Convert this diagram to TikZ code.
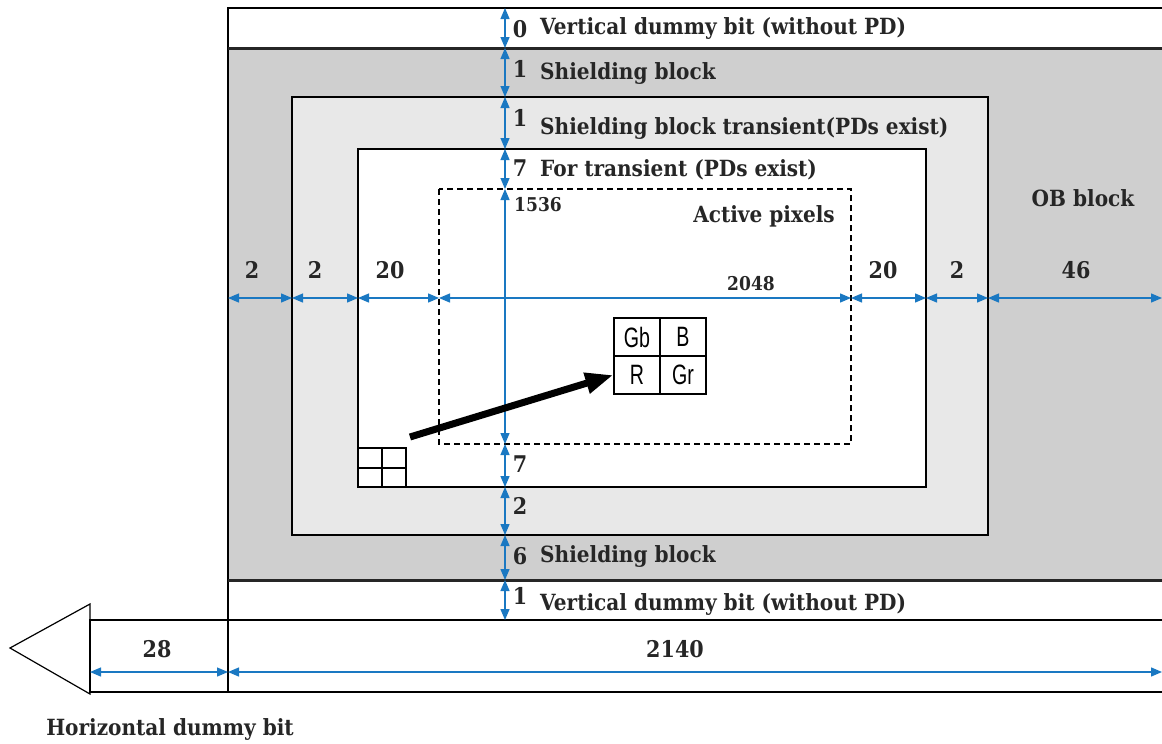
\documentclass[tikz,border=0pt]{standalone}
\usepackage{fontspec}
\setmainfont{DejaVu Serif}[FakeStretch=0.9]
\newfontfamily\cellfont{Liberation Sans}[FakeStretch=0.7]
\usetikzlibrary{arrows.meta}
\definecolor{dimblue}{HTML}{1A78C2}
\definecolor{obgray}{HTML}{CFCFCF}
\definecolor{lightgray}{HTML}{E8E8E8}
\begin{document}
\begin{tikzpicture}[x=1pt,y=-1pt,
  dim/.style={draw=dimblue, line width=1.3pt, {Triangle[length=11pt,width=9pt]}-{Triangle[length=11pt,width=9pt]}},
  frame/.style={draw=black, line width=1.3pt},
  lbl/.style={font=\bfseries\fontsize{22.3}{24}\selectfont, text=black!85, inner sep=0pt, anchor=west},
  num/.style={font=\bfseries\fontsize{23}{24}\selectfont, text=black!85, inner sep=0pt},
  small/.style={font=\bfseries\fontsize{19}{20}\selectfont, text=black!85, inner sep=0pt},
  cell/.style={draw=black, line width=1.3pt, minimum width=46pt, minimum height=38pt, inner sep=0pt, font=\cellfont\fontsize{28}{30}\selectfont}]
\useasboundingbox (0,0) rectangle (1162,744);
\clip (0,0) rectangle (1162,744);
% regions
\fill[obgray] (228,48) rectangle (1170,580);
\fill[lightgray] (292,97) rectangle (988,535);
\fill[white] (358,149) rectangle (926,487);
\draw[frame] (292,97) rectangle (988,535);
\draw[frame] (358,149) rectangle (926,487);
\draw[black, line width=1.3pt, dashed, dash pattern=on 6pt off 4pt] (439,189) rectangle (851,444);
% outer frame lines
\draw[frame] (1170,8) -- (228,8) -- (228,692);
\draw[black!85, line width=3pt] (1170,48) -- (228,48);
\draw[black!85, line width=3pt] (1170,580) -- (228,580);
\draw[frame] (1170,620) -- (90,620) -- (90,692) -- (1170,692);
% triangle
\draw[frame, line width=1.2pt] (90,604) -- (10,648) -- (90,694) -- cycle;
% vertical dimension coordinates
\foreach \n/\y in {v0/8,v1/48,v2/97,v3/149,v4/189,v5/444,v6/487,v7/535,v8/580,v9/620}
  \coordinate (\n) at (505,\y);
\draw[dim] (v0) -- (v1);
\draw[dim] (v1) -- (v2);
\draw[dim] (v2) -- (v3);
\draw[dim] (v3) -- (v4);
\draw[dim] (v4) -- (v5);
\draw[dim] (v5) -- (v6);
\draw[dim] (v6) -- (v7);
\draw[dim] (v7) -- (v8);
\draw[dim] (v8) -- (v9);
% horizontal dimension coordinates
\foreach \n/\x in {h0/228,h1/292,h2/358,h3/439,h4/851,h5/926,h6/988,h7/1162}
  \coordinate (\n) at (\x,298);
\draw[dim] (h0) -- (h1);
\draw[dim] (h1) -- (h2);
\draw[dim] (h2) -- (h3);
\draw[dim] (h3) -- (h4);
\draw[dim] (h4) -- (h5);
\draw[dim] (h5) -- (h6);
\draw[dim] (h6) -- (h7);
% bottom row
\coordinate (b0) at (90,672);
\coordinate (b1) at (228,672);
\coordinate (b2) at (1162,672);
\draw[dim] (b0) -- (b1);
\draw[dim] (b1) -- (b2);
% labels vertical
\node[num] (n0) at (520,29) {0};
\node[lbl] (t0) at (540,29) {Vertical dummy bit (without PD)};
\node[num] (n1) at (520,69) {1};
\node[lbl] (t1) at (540,74) {Shielding block};
\node[num] (n2) at (520,118) {1};
\node[lbl] (t2) at (540,129) {Shielding block transient(PDs exist)};
\node[num] (n3) at (520,168) {7};
\node[lbl] (t3) at (540,170) {For transient (PDs exist)};
\node[small] (n4) at (538,205) {1536};
\node[lbl, anchor=center] (act) at (764,216) {Active pixels};
\node[lbl, anchor=center] (ob) at (1083,198) {OB block};
\node[num] (n5) at (520,464) {7};
\node[num] (n6) at (520,506) {2};
\node[num] (n7) at (520,556) {6};
\node[lbl] (t7) at (540,556) {Shielding block};
\node[num] (n8) at (520,596) {1};
\node[lbl] (t8) at (540,604) {Vertical dummy bit (without PD)};
% labels horizontal
\node[num] (m0) at (252,270) {2};
\node[num] (m1) at (315,270) {2};
\node[num] (m2) at (390,270) {20};
\node[small] (m3) at (751,284) {2048};
\node[num] (m4) at (883,270) {20};
\node[num] (m5) at (957,270) {2};
\node[num] (m6) at (1076,270) {46};
\node[num] (m7) at (157,649) {28};
\node[num] (m8) at (675,649) {2140};
\node[lbl, anchor=center] (hd) at (170,729) {Horizontal dummy bit};
% Bayer cell
\node[cell] (gb) at (637,337) {Gb};
\node[cell] (bb) at (683,337) {B};
\node[cell] (rr) at (637,375) {R};
\node[cell] (gr) at (683,375) {Gr};
\draw[black, line width=2.6pt] (614,318) rectangle (706,394);
% small cell
\draw[frame] (358,448) rectangle (406,487);
\draw[frame] (382,448) -- (382,487);
\draw[frame] (358,468) -- (406,468);
\coordinate (sc) at (410,437);
% thick arrow
\draw[black, line width=7pt, -{Triangle[length=28pt,width=20pt]}] (sc) -- (rr.west);
\end{tikzpicture}
\end{document}
